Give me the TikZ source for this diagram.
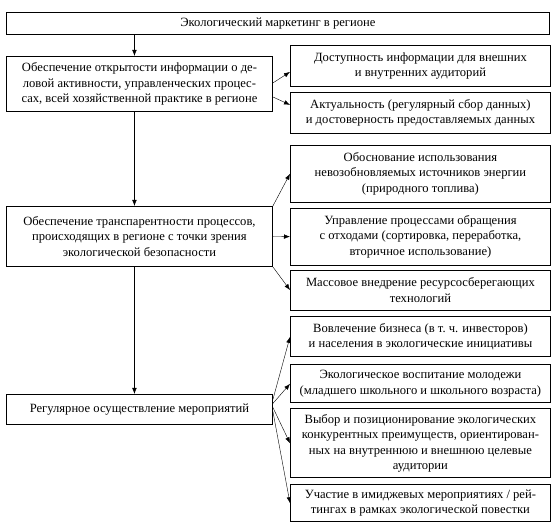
\documentclass[tikz,border=0pt]{standalone}
\usepackage{fontspec}
\setmainfont{Liberation Serif}
\usetikzlibrary{arrows.meta}
\usetikzlibrary{positioning}

\begin{document}
\begin{tikzpicture}[x=1pt, y=-1pt, >={Latex[length=6pt, width=4.5pt]},
    font=\fontsize{12.6}{15.5}\selectfont,
    block/.style={draw, line width=0.9pt, align=center, inner sep=2pt, anchor=north west},
    goal/.style={block, minimum width=266pt},
    task/.style={block, minimum width=260pt}]

  \useasboundingbox (0,0) rectangle (555,529);

  \node[block, minimum width=543pt, minimum height=22pt] (market) at (6,12) {Экологический маркетинг в регионе};

  \node[goal, minimum height=55pt] (open)   at (6,56)  {Обеспечение открытости информации о де-\\ловой активности, управленческих процес-\\сах, всей хозяйственной практике в регионе};
  \node[goal, minimum height=60pt] (transp) at (6,206) {Обеспечение транспарентности процессов,\\происходящих в регионе с точки зрения\\экологической безопасности};
  \node[goal, minimum height=30pt] (events) at (6,394) {Регулярное осуществление мероприятий};

  \node[task, minimum height=41pt] (access)  at (290,45)         {Доступность информации для внешних\\и внутренних аудиторий};
  \node[task, minimum height=41pt] (actual)  [below=5pt of access]  {Актуальность (регулярный сбор данных)\\и достоверность предоставляемых данных};
  \node[task, minimum height=57pt] (fuel)    [below=11pt of actual] {Обоснование использования\\невозобновляемых источников энергии\\(природного топлива)};
  \node[task, minimum height=57pt] (waste)   [below=5pt of fuel]    {Управление процессами обращения\\с отходами (сортировка, переработка,\\вторичное использование)};
  \node[task, minimum height=40pt] (saving)  [below=4pt of waste]   {Массовое внедрение ресурсосберегающих\\технологий};
  \node[task, minimum height=40pt] (invest)  [below=6pt of saving]  {Вовлечение бизнеса (в т.~ч. инвесторов)\\и населения в экологические инициативы};
  \node[task, minimum height=38pt] (youth)   [below=7pt of invest]  {Экологическое воспитание молодежи\\(младшего школьного и школьного возраста)};
  \node[task, minimum height=69pt] (compete) [below=5pt of youth]   {Выбор и позиционирование экологических\\конкурентных преимуществ, ориентирован-\\ных на внутреннюю и внешнюю целевые\\аудитории};
  \node[task, minimum height=37pt] (rating)  [below=6pt of compete] {Участие в имиджевых мероприятиях / рей-\\тингах в рамках экологической повестки};

  % main column
  \draw[->] ([xshift=-5pt]open.north |- market.south) -- ([xshift=-5pt]open.north);
  \draw[->] ([xshift=-5pt]open.south)   -- ([xshift=-5pt]transp.north);
  \draw[->] ([xshift=-5pt]transp.south) -- ([xshift=-5pt]events.north);

  % branches
  \draw[->] ([yshift=1pt]open.east)   -- ([yshift=-6pt]access.west);
  \draw[->] ([yshift=-13pt]open.east) -- ([yshift=8pt]actual.west);

  \draw[->] (transp.north east) -- (fuel.west);
  \draw[->] (transp.east)       -- (waste.west);
  \draw[->] (transp.south east) -- (saving.west);

  \draw[->] ([yshift=10pt]events.east) -- (invest.west);
  \draw[->] ([yshift=6pt]events.east)  -- (youth.west);
  \draw[->] ([yshift=2pt]events.east)  -- (compete.west);
  \draw[->] ([yshift=-2pt]events.east) -- (rating.west);

\end{tikzpicture}
\end{document}
